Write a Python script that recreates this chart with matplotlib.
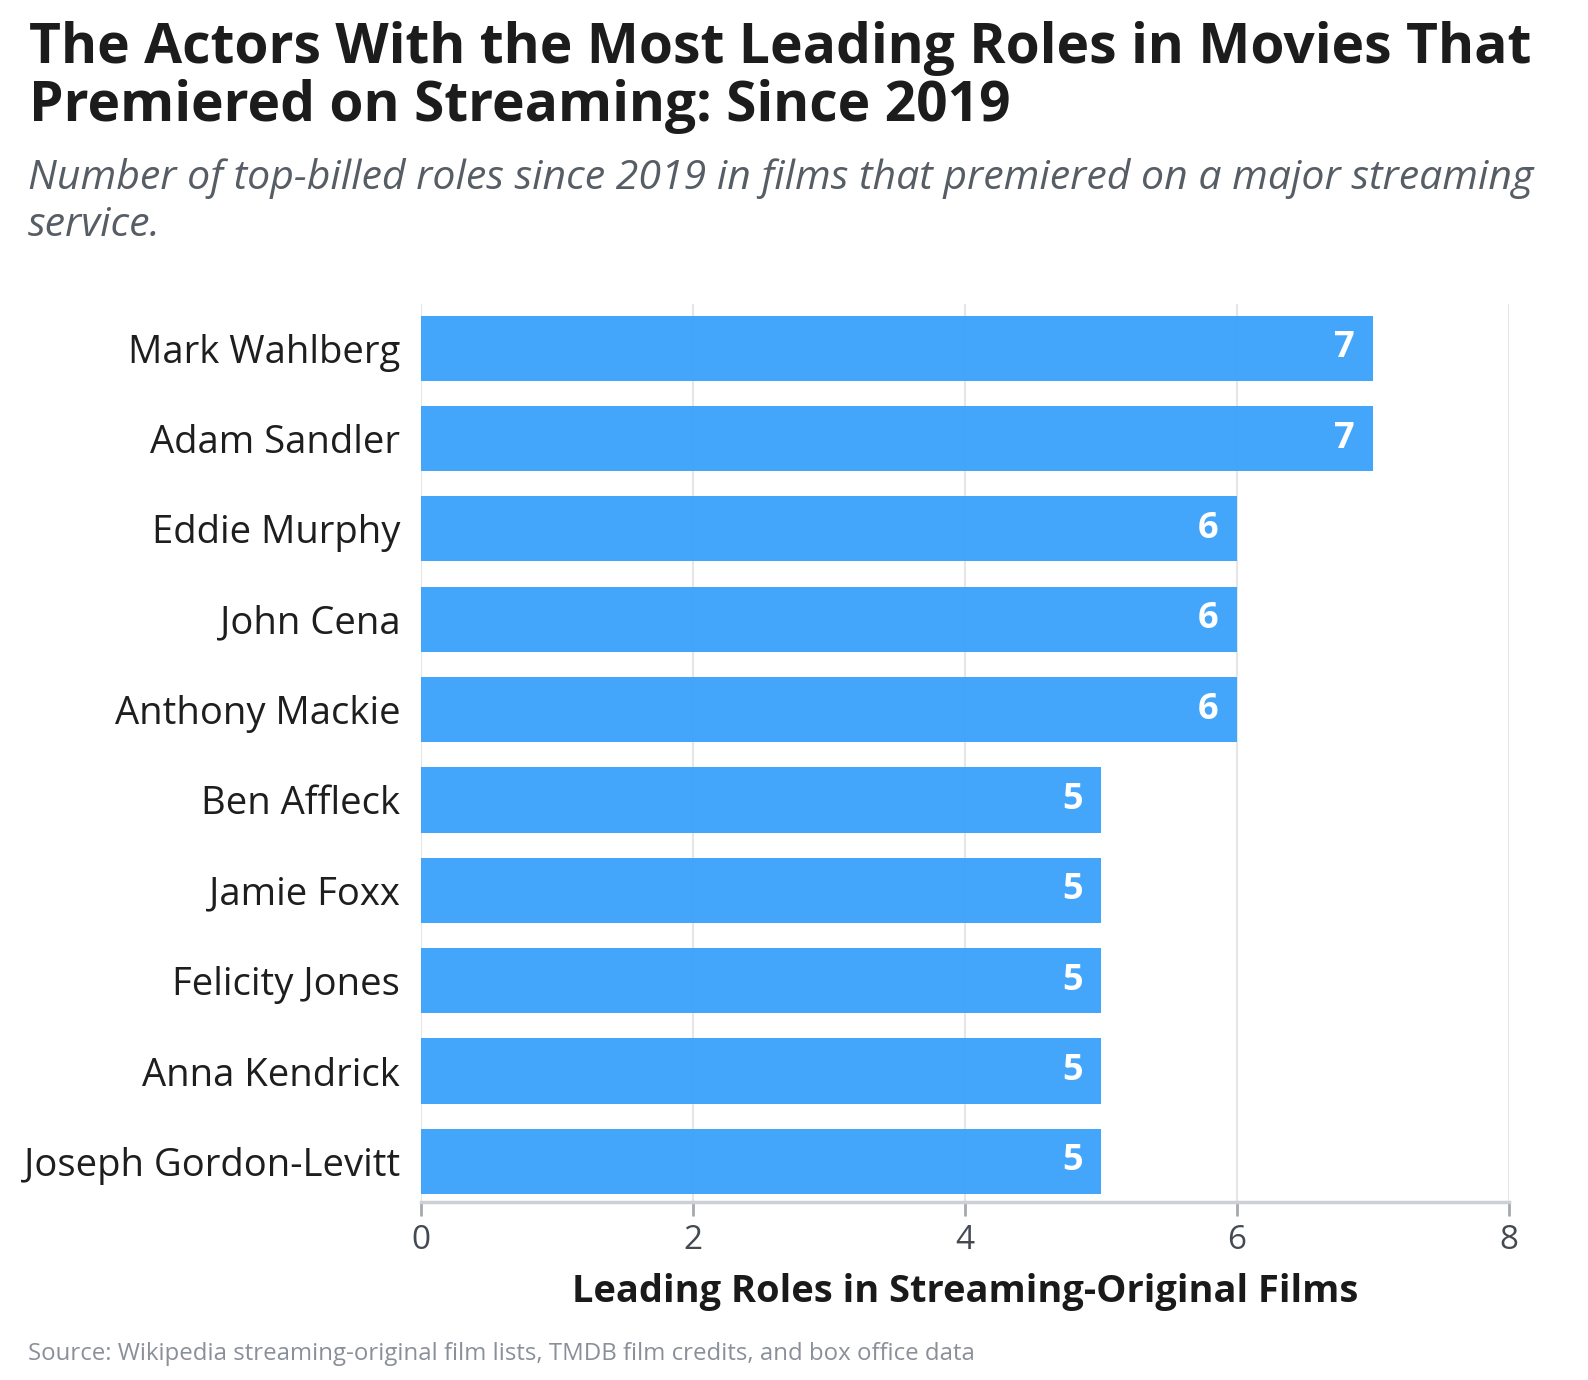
import matplotlib
matplotlib.use("Agg")
import matplotlib.pyplot as plt

# data
actors = ["Mark Wahlberg", "Adam Sandler", "Eddie Murphy", "John Cena", "Anthony Mackie",
          "Ben Affleck", "Jamie Foxx", "Felicity Jones", "Anna Kendrick", "Joseph Gordon-Levitt"]
roles = [7, 7, 6, 6, 6, 5, 5, 5, 5, 5]
xticks = [0, 2, 4, 6, 8]

title_lines = ["The Actors With the Most Leading Roles in Movies That",
               "Premiered on Streaming: Since 2019"]
subtitle_lines = ["Number of top-billed roles since 2019 in films that premiered on a major streaming",
                  "service."]
xlabel = "Leading Roles in Streaming-Original Films"
source = "Source: Wikipedia streaming-original film lists, TMDB film credits, and box office data"

plt.rcParams['font.family'] = ['Open Sans', 'DejaVu Sans']

W, H = 1588, 1380
fig = plt.figure(figsize=(W / 100, H / 100), dpi=100)
fig.patch.set_facecolor('white')

# axes box in pixel coords
left, right, top, bottom = 421, 1509, 304, 1202
ax = fig.add_axes([left / W, 1 - bottom / H, (right - left) / W, (bottom - top) / H])

ypos = list(range(len(actors)))
ax.barh(ypos, roles, height=0.72, color='#3EA3FA', alpha=0.97, zorder=2)

for y, v in zip(ypos, roles):
    ax.text(v - 0.135, y, str(v), ha='right', va='center', color='white',
            fontsize=26, fontweight='bold', zorder=3)

ax.set_xlim(0, 8)
ax.set_ylim(9.45, -0.49)
ax.set_xticks(xticks)
ax.set_xticklabels([str(t) for t in xticks])
ax.set_yticks(ypos)
ax.set_yticklabels(actors)

ax.tick_params(axis='y', length=0, pad=15, labelsize=27.5, labelcolor='#1e1e1e')
ax.tick_params(axis='x', length=10, width=2, color='#a3a9b0', pad=6,
               labelsize=24, labelcolor='#444a52')

ax.grid(axis='x', color='#e6e6e6', linewidth=1.5, zorder=0)
ax.set_axisbelow(True)
for s in ['top', 'right', 'left']:
    ax.spines[s].set_visible(False)
ax.spines['bottom'].set_color('#ccd0d5')
ax.spines['bottom'].set_linewidth(2.5)

# x label centred on the axis
fig.text((left + right) / 2 / W, 1 - 1302 / H, xlabel, ha='center', va='baseline',
         fontsize=27.4, fontweight='bold', color='#1a1a1a')

# title & subtitle
fig.text(29 / W, 1 - 63 / H, title_lines[0], ha='left', va='baseline',
         fontsize=39.7, fontweight='bold', color='#1c1c1c')
fig.text(29 / W, 1 - 121.5 / H, title_lines[1], ha='left', va='baseline',
         fontsize=39.7, fontweight='bold', color='#1c1c1c')
fig.text(28 / W, 1 - 189 / H, subtitle_lines[0], ha='left', va='baseline',
         fontsize=29.5, style='italic', color='#575d65')
fig.text(28 / W, 1 - 236 / H, subtitle_lines[1], ha='left', va='baseline',
         fontsize=29.5, style='italic', color='#575d65')

fig.text(28 / W, 1 - 1360 / H, source, ha='left', va='baseline',
         fontsize=17.3, color='#8a9099')

fig.savefig('out.png', dpi=100, facecolor='white')
